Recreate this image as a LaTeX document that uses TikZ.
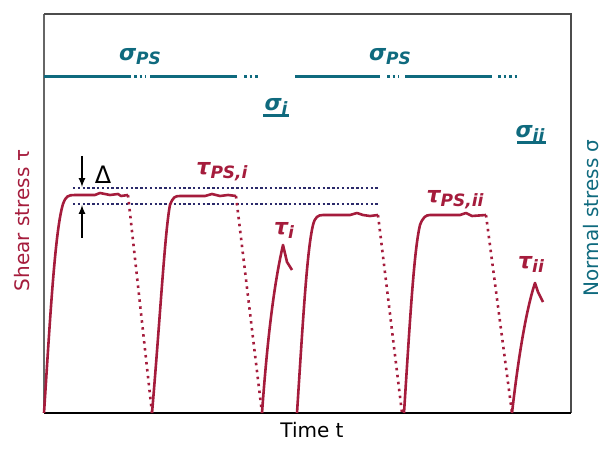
\documentclass[tikz,border=0pt]{standalone}
\usepackage{fontspec}
\setmainfont{DejaVu Sans}
\definecolor{red1}{HTML}{A51C3C}
\definecolor{teal1}{HTML}{0F6A7E}
\definecolor{navy1}{HTML}{2B2A6A}
\newcommand{\mysub}[1]{\raisebox{-4pt}{\fontsize{17}{17}\selectfont #1}}
\begin{document}
\begin{tikzpicture}[x=1pt,y=-1pt,
  sig/.style={teal1,line width=3pt},
  sigd/.style={teal1,line width=3pt,dash pattern=on 2.5pt off 3pt},
  tau/.style={red1,line width=2.6pt,line join=round},
  taud/.style={red1,line width=2.6pt,dash pattern=on 2.5pt off 4.5pt},
  lev/.style={navy1,line width=2.8pt,dash pattern=on 2.4pt off 2.4pt},
  lbl/.style={font=\bfseries\itshape\fontsize{22}{22}\selectfont,inner sep=1pt},
  ax/.style={font=\fontsize{20}{20}\selectfont}]
\useasboundingbox (0,0) rectangle (611,454);
\draw[gray!80!black,line width=1.5pt] (44,14) -- (44,413);
\draw[black!70,line width=1.2pt] (44,14) -- (571,14) -- (571,413);
\draw[black,line width=1.5pt] (44,413) -- (571,413);
% sigma lines
\draw[sig] (44,77) -- (131,77); \draw[sigd] (134,77) -- (146,77);
\draw[sig] (150,77) -- (237,77); \draw[sigd] (244,77) -- (259,77);
\draw[sig] (295,77) -- (380,77); \draw[sigd] (387,77) -- (399,77);
\draw[sig] (405,77) -- (492,77); \draw[sigd] (498,77) -- (517,77);
\node[lbl,teal1] (sps1) at (140,57) {σ\mysub{PS}};
\node[lbl,teal1] (sps2) at (390,57) {σ\mysub{PS}};
\node[lbl,teal1] (si) at (276,106) {σ\mysub{i}};
\draw[sig] (si.south west) -- (si.south east);
\node[lbl,teal1] (sii) at (530,133) {σ\mysub{ii}};
\draw[sig] ([xshift=3pt]sii.south west) -- (sii.south east);
% levels
\draw[lev] (73,188) -- (378,188);
\draw[lev] (73,204) -- (378,204);
\coordinate (a1) at (82,156); \coordinate (a2) at (82,187);
\coordinate (b1) at (82,238); \coordinate (b2) at (82,205);
\draw[-latex,line width=2pt] (a1) -- (a2);
\draw[-latex,line width=2pt] (b1) -- (b2);
\node[font=\fontsize{24}{24}\selectfont] (delta) at (103,175) {Δ};
% tau curves
\draw[tau] (44,413) .. controls (50,320) and (55,230) .. (63,204) .. controls (66,196) and (68,195) .. (75,195)
  -- (95,195) -- (100,193) -- (110,195) -- (118,194) -- (121,196) -- (128,195);
\draw[taud] (128,195) -- (152,413);
\draw[tau] (152,413) .. controls (160,320) and (165,230) .. (170,205) .. controls (173,197) and (175,196) .. (180,196)
  -- (205,196) -- (212,194) -- (220,196) -- (228,195) -- (236,196);
\draw[taud] (236,196) -- (262,413);
\draw[tau] (262,413) .. controls (268,330) and (275,280) .. (283,245) -- (287,262) -- (292,270);
\node[lbl,red1] (ti) at (284,230) {τ\mysub{i}};
\draw[tau] (297,413) .. controls (303,320) and (307,250) .. (313,225) .. controls (315,217) and (318,215) .. (323,215)
  -- (350,215) -- (357,213) -- (363,215) -- (370,216) -- (378,215);
\draw[taud] (378,215) -- (402,413);
\draw[tau] (404,413) .. controls (410,320) and (414,250) .. (420,225) .. controls (423,217) and (426,215) .. (430,215)
  -- (460,215) -- (466,213) -- (472,216) -- (486,215);
\draw[taud] (486,215) -- (512,413);
\draw[tau] (512,413) .. controls (518,360) and (526,310) .. (535,283) -- (538,292) -- (543,302);
\node[lbl,red1] (tii) at (531,264) {τ\mysub{ii}};
\node[lbl,red1] (tpsi) at (222,172) {τ\mysub{PS,i}};
\node[lbl,red1] (tpsii) at (455,200) {τ\mysub{PS,ii}};
% axis labels
\node[ax,red1,rotate=90] (ylab) at (22,220) {Shear stress τ};
\node[ax,teal1,rotate=90] (y2lab) at (591,218) {Normal stress σ};
\node[ax] (xlab) at (312,430) {Time t};
\end{tikzpicture}
\end{document}
